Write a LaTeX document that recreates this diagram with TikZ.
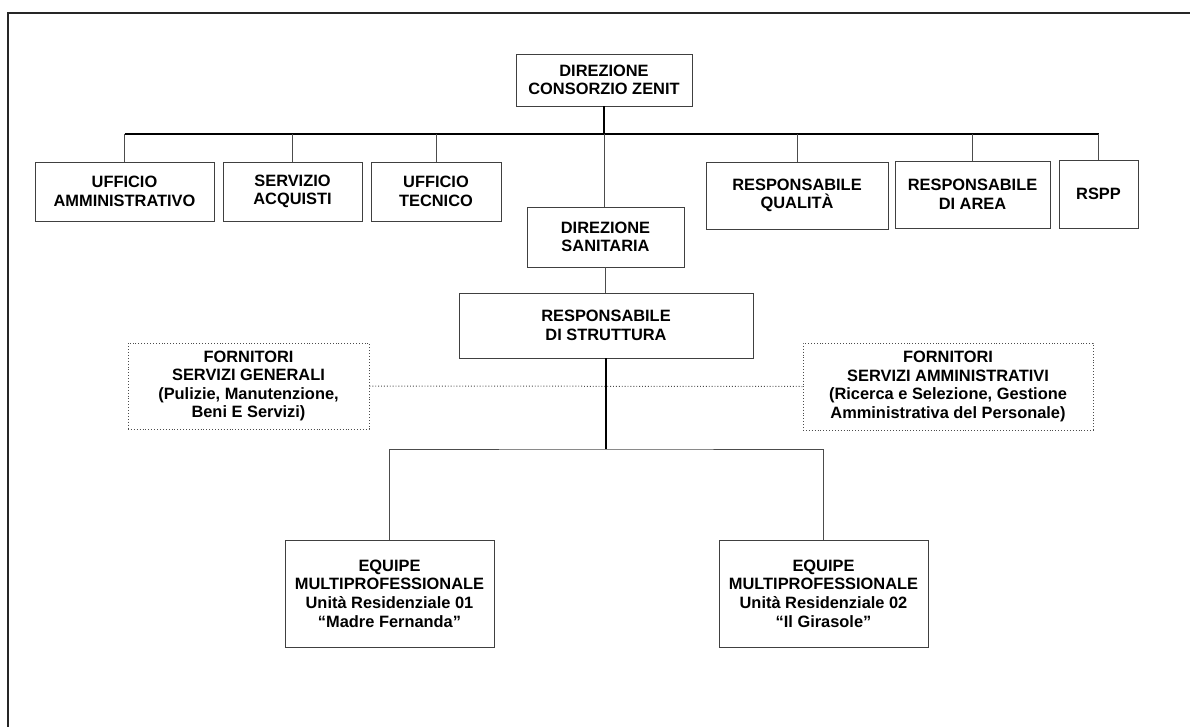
\documentclass[tikz,border=0pt]{standalone}
\usepackage{fontspec}
\setmainfont{Liberation Sans}

\begin{document}
\begin{tikzpicture}[x=1pt, y=-1pt,
  box/.style={draw=black!75, line width=0.9pt, align=center, inner sep=0pt,
    font=\bfseries\fontsize{16.4}{18.6}\selectfont},
  dotbox/.style={box, dotted, draw=black!70},
  conn/.style={draw=black!70, line width=0.9pt}]
			\useasboundingbox (0,0) rectangle (1190,727);
			\draw[line width=2.5pt, black!85] (8,727) -- (8,13) -- (1190,13);
			
			\node[box, minimum width=176pt, minimum height=52pt] (dircons) at (604,80) {DIREZIONE\\CONSORZIO ZENIT};
			
			\node[box, minimum width=179pt, minimum height=59pt] (uffamm) at (124.5,191.5) {UFFICIO\\AMMINISTRATIVO};
			\node[box, minimum width=139pt, minimum height=59pt] (servacq) at (292.5,191.5) {SERVIZIO\\ACQUISTI};
			\node[box, minimum width=130pt, minimum height=59pt] (ufftec) at (436,191.5) {UFFICIO\\TECNICO};
			\node[box, minimum width=157pt, minimum height=60pt] (dirsan) at (605.5,237) {DIREZIONE\\SANITARIA};
			\node[box, minimum width=182pt, minimum height=67pt] (respqual) at (797,195.5) {RESPONSABILE\\QUALITÀ};
			\node[box, minimum width=155pt, minimum height=67pt] (resparea) at (972.5,194.5) {RESPONSABILE\\DI AREA};
			\node[box, minimum width=79pt, minimum height=68pt] (rspp) at (1098.5,194) {RSPP};
			
			\node[box, minimum width=294pt, minimum height=65pt] (respstr) at (606,325.5) {RESPONSABILE\\DI STRUTTURA};
			\node[dotbox, minimum width=241pt, minimum height=86pt] (fornsg) at (248.5,386) {FORNITORI\\SERVIZI GENERALI\\(Pulizie, Manutenzione,\\Beni E Servizi)};
			\node[dotbox, minimum width=290pt, minimum height=87pt] (fornsa) at (948,386.5) {FORNITORI\\SERVIZI AMMINISTRATIVI\\(Ricerca e Selezione, Gestione\\Amministrativa del Personale)};
			
			\node[box, minimum width=209pt, minimum height=107pt] (equipe1) at (389.5,593.5) {EQUIPE\\MULTIPROFESSIONALE\\Unità Residenziale 01\\“Madre Fernanda”};
			\node[box, minimum width=209pt, minimum height=107pt] (equipe2) at (823.5,593.5) {EQUIPE\\MULTIPROFESSIONALE\\Unità Residenziale 02\\“Il Girasole”};
			
			\coordinate (bus1) at (604,134);
			\coordinate (bus2) at (606,449);
			
			\draw[line width=1.2pt] (uffamm.north |- bus1) -- (rspp.north |- bus1);
			\foreach \n in {uffamm,servacq,ufftec,respqual,resparea,rspp}
				\draw[conn] (\n.north) -- (\n.north |- bus1);
			\draw[line width=1.6pt] (dircons.south) -- (bus1);
			\draw[conn] (bus1) -- (dirsan.north -| bus1);
			\draw[conn] (dirsan.south) -- (respstr.north -| dirsan.south);
			
			\draw[conn, dotted, line width=1pt] (fornsg.east) -- (fornsa.west);
			\draw[line width=1.1pt] (respstr.south) -- (bus2);
			\draw[conn] (equipe1.north) |- (bus2) -| (equipe2.north);
		
		\end{tikzpicture}
\end{document}
